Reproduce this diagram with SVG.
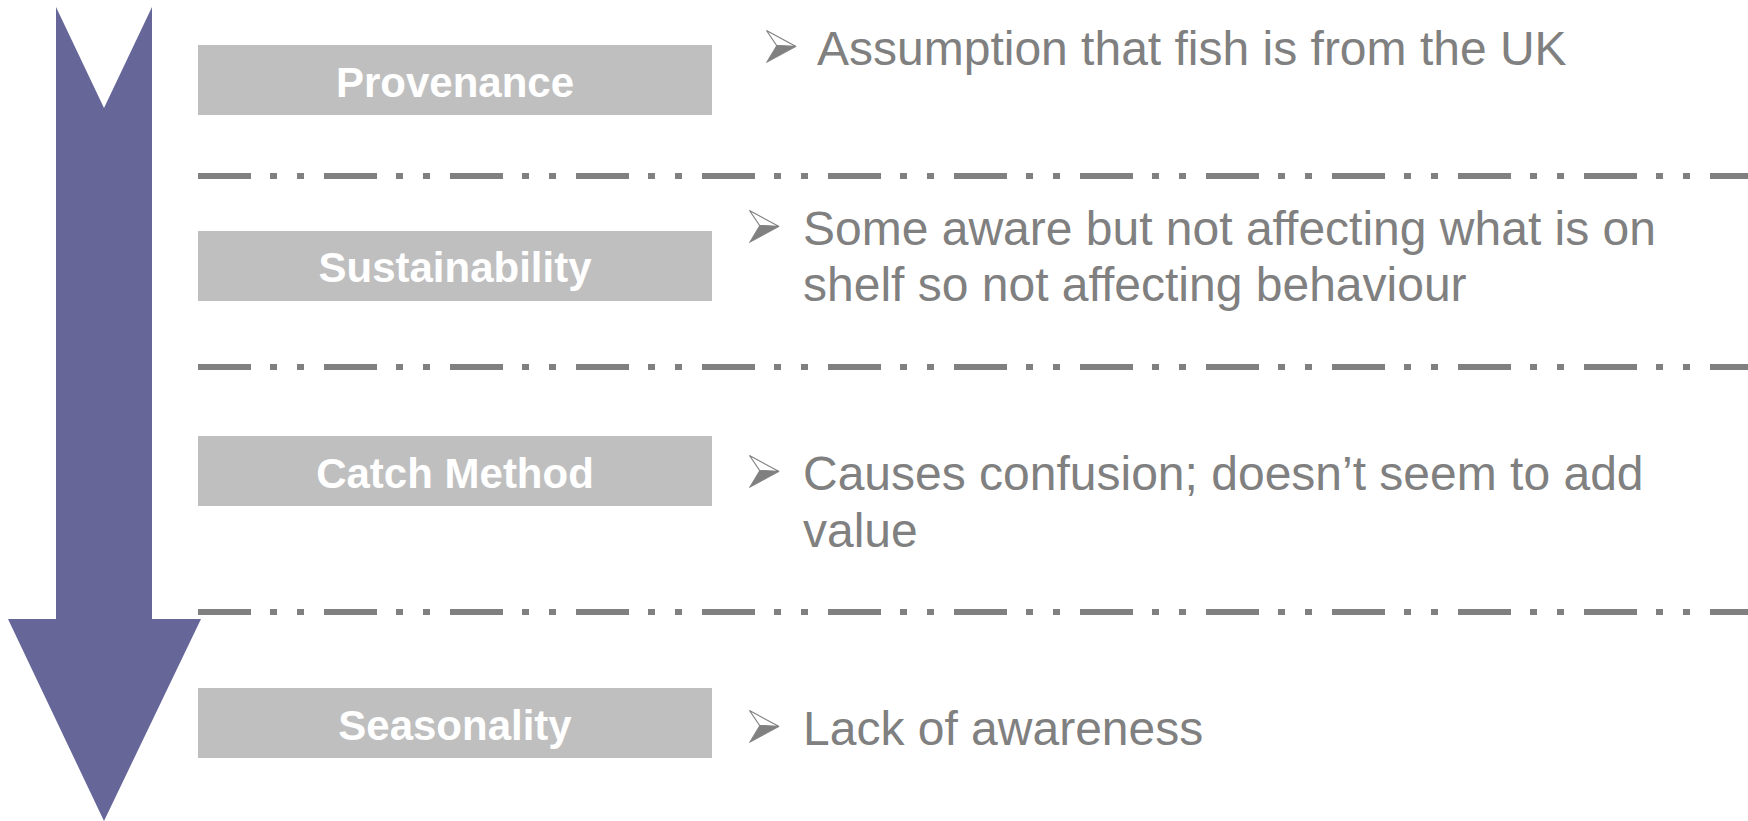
<svg xmlns="http://www.w3.org/2000/svg" width="1748" height="821" viewBox="0 0 1748 821">
  <style>
    .box { fill: #BFBFBF; }
    .label { font-family: "Liberation Sans", Arial, sans-serif; font-weight: bold; font-size: 42px; fill: #FFFFFF; text-anchor: middle; }
    .note { font-family: "Liberation Sans", Arial, sans-serif; font-size: 48px; fill: #808080; }
    .divider { stroke: #808080; stroke-width: 6; stroke-dasharray: 53 19 7 20 7 20; fill: none; }
  </style>
  <defs>
    <!-- 3D arrowhead bullet -->
    <symbol id="bullet" viewBox="0 0 32 34" overflow="visible">
      <polygon points="0.5,0.5 31,17 11,16" fill="#FFFFFF" stroke="#808080" stroke-width="1.2" stroke-linejoin="miter"/>
      <polygon points="11,16 31,17 0.5,33.5" fill="#808080" stroke="#808080" stroke-width="0.8"/>
    </symbol>
  </defs>

  <rect width="1748" height="821" fill="#FFFFFF"/>

  <!-- big downward arrow -->
  <polygon id="flow-arrow" points="56,7 104,108 152,7 152,619 201,619 104,821 8,619 56,619" fill="#666699"/>

  <!-- dash-dot-dot separators -->
  <g id="connectors">
    <line class="divider" x1="198" y1="176" x2="1748" y2="176"/>
    <line class="divider" x1="198" y1="367" x2="1748" y2="367"/>
    <line class="divider" x1="198" y1="612" x2="1748" y2="612"/>
  </g>

  <g id="provenance">
    <rect class="box" x="198" y="45" width="514" height="70"/>
    <text class="label" x="455" y="97">Provenance</text>
    <use href="#bullet" x="766" y="30" width="31" height="33"/>
    <text class="note" x="817" y="65">Assumption that fish is from the UK</text>
  </g>

  <g id="sustainability">
    <rect class="box" x="198" y="231" width="514" height="70"/>
    <text class="label" x="455" y="282">Sustainability</text>
    <use href="#bullet" x="749" y="210" width="31" height="33"/>
    <text class="note" x="803" y="245">Some aware but not affecting what is on</text>
    <text class="note" x="803" y="301">shelf so not affecting behaviour</text>
  </g>

  <g id="catch-method">
    <rect class="box" x="198" y="436" width="514" height="70"/>
    <text class="label" x="455" y="488">Catch Method</text>
    <use href="#bullet" x="749" y="455" width="31" height="33"/>
    <text class="note" x="803" y="490">Causes confusion; doesn’t seem to add</text>
    <text class="note" x="803" y="547">value</text>
  </g>

  <g id="seasonality">
    <rect class="box" x="198" y="688" width="514" height="70"/>
    <text class="label" x="455" y="740">Seasonality</text>
    <use href="#bullet" x="749" y="710" width="31" height="33"/>
    <text class="note" x="803" y="745">Lack of awareness</text>
  </g>
</svg>
